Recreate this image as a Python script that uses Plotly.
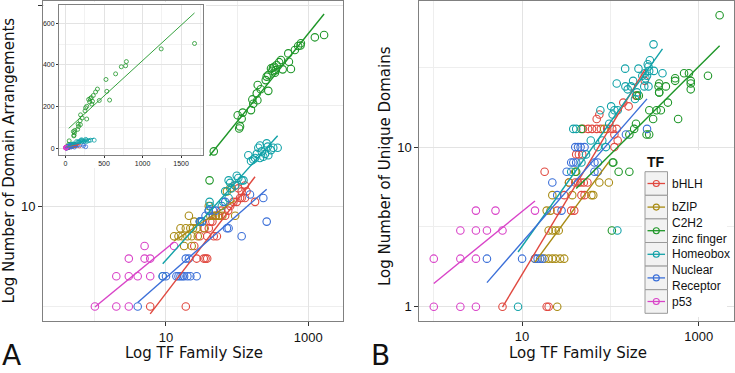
import numpy as np
import plotly.graph_objects as go

W, H = 735, 373

families = ["bHLH", "bZIP", "C2H2 zinc finger", "Homeobox", "Nuclear Receptor", "p53"]
legend_lines = ["bHLH", "bZIP", "C2H2<br>zinc finger", "Homeobox", "Nuclear<br>Receptor", "p53"]
colors = ["#E0483F", "#A88A12", "#1E9628", "#12A2A8", "#3B6FD8", "#D943C8"]

# ---------------- Panel A: family size vs number of domain arrangements ----------------
bhlh_a_size = [6, 19, 27, 34, 36, 38, 38, 47, 52, 56, 60, 68, 75, 80, 89, 94, 99, 104, 110, 116, 116, 129, 129, 136,
               179, 25, 30, 35, 40, 42, 45, 50]
bhlh_a_arr = [1, 1, 3, 3, 3, 3, 5, 5, 5, 8, 9, 8, 9, 10, 11, 16, 11, 15, 12, 14, 12, 16, 12, 14,
              11, 4, 5, 6, 6, 7, 7, 8]
bzip_a_size = [13, 15, 17, 20, 23, 28, 16, 19, 22, 24, 27, 18, 23, 21, 25, 30, 34, 40, 42, 46, 50, 55, 62, 94, 72, 80]
bzip_a_arr = [5, 5, 5, 5, 5, 5, 6, 6, 6, 6, 6, 4, 4, 8, 7, 7, 6, 10, 8, 8, 8, 8, 8, 8, 14, 15]
c2h2_a_size = [41, 47, 102, 107, 110, 116, 120, 157, 164, 169, 189, 193, 195, 215, 253, 261, 275, 275, 300, 313,
               320, 334, 341, 350, 360, 390, 414, 438, 525, 536, 572, 650, 724, 780, 790, 1242, 1675]
c2h2_a_arr = [18, 35, 80, 59, 62, 74, 85, 90, 115, 104, 132, 113, 160, 145, 179, 194, 201, 140, 234, 222,
              238, 243, 212, 225, 253, 270, 284, 229, 330, 273, 231, 357, 391, 396, 416, 477, 503]
homeobox_a_size = [9, 30, 32, 40, 41, 42, 61, 64, 68, 76, 76, 80, 84, 94, 99, 104, 116, 123, 144, 157, 169, 179,
                   189, 199, 210, 210, 222, 234, 247, 261, 270, 275, 300, 323, 372]
homeobox_a_arr = [2, 7, 7, 9, 11, 10, 10, 11, 14, 18, 12, 17, 15, 16, 20, 19, 18, 18, 32, 28, 29, 30,
                  33, 38, 40, 30, 35, 31, 33, 42, 39, 32, 36, 38, 38]
nr_a_size = [4, 9, 10, 14, 15, 16, 17, 18, 20, 22, 27, 19, 21, 30, 32, 36, 40, 46, 50, 68, 72, 76, 116, 152, 234, 261]
nr_a_arr = [1, 2, 2, 2, 2, 2, 2, 2, 2, 2, 2, 3, 3, 7, 7, 8, 9, 9, 9, 11, 6, 6, 5, 13, 12, 7]
p53_a_size = [1, 2, 3, 2, 3, 4, 6, 3, 5, 6, 5, 13]
p53_a_arr = [1, 1, 1, 2, 2, 2, 2, 3, 3, 3, 4, 4]

# ---------------- Panel B: family size vs number of unique domains ----------------
bhlh_b_size = [6, 19, 20, 18, 36, 39, 47, 51, 40, 43, 46, 50, 55, 41, 44, 48, 49, 56, 62, 70, 78, 92, 105, 118,
               75, 70, 111, 121, 111, 140, 161, 195, 245, 25, 30, 34]
bhlh_b_uniq = [1, 1, 1, 7, 4, 4, 5, 5, 6, 6, 6, 6, 6, 9, 9, 9, 13, 13, 13, 13, 13, 13, 13, 13,
               16, 15, 12, 11, 10, 19, 18, 21, 26, 4, 5, 6]
bzip_b_size = [14, 18, 20, 22, 24, 27, 30, 20, 22, 24, 26, 19, 21, 22, 37, 61, 64, 34, 75, 96, 85, 25, 40]
bzip_b_uniq = [2, 2, 2, 2, 2, 2, 2, 3, 3, 3, 3, 4, 4, 5, 5, 5, 5, 6, 6, 6, 13, 1, 7]
c2h2_b_size = [41, 47, 104, 108, 124, 164, 106, 200, 210, 164, 186, 195, 257, 275, 276, 305, 333, 373, 351, 357,
               357, 357, 425, 448, 541, 541, 585, 683, 776, 813, 813, 813, 1274, 1726]
c2h2_b_uniq = [7, 13, 3, 8, 7, 7, 8, 21, 21, 12, 13, 14, 12, 12, 17, 15, 17, 17, 24, 25,
               22, 22, 24, 19, 27, 26, 15, 29, 29, 26, 25, 23, 28, 67]
homeobox_b_size = [9, 120, 36, 47, 53, 72, 38, 41, 60, 81, 89, 97, 77, 102, 111, 121, 106, 118, 148, 157, 171, 181,
                   208, 147, 270, 275, 311, 389, 242, 270, 250, 260, 230, 308, 280, 265, 245, 200, 190]
homeobox_b_uniq = [1, 3, 7, 8, 9, 10, 13, 13, 11, 11, 10, 14, 17, 18, 17, 17, 16, 25, 24, 23, 24, 26,
                   31, 31, 32, 30, 30, 29, 24, 24, 27, 28, 28, 44, 35, 33, 29, 22, 20]
nr_b_size = [4, 10, 14, 15, 16, 17, 28, 32, 36, 38, 41, 40, 43, 46, 51, 66, 72, 66, 72, 150, 260, 22, 25]
nr_b_uniq = [2, 2, 2, 2, 2, 2, 4, 7, 8, 8, 8, 10, 10, 10, 10, 7, 7, 8, 8, 12, 13, 6, 5]
p53_b_size = [1, 2, 3, 1, 2, 3, 2, 3, 4, 6, 3, 5, 14]
p53_b_uniq = [1, 1, 1, 2, 2, 2, 3, 3, 3, 3, 4, 4, 4]

# axis tick labels
log_ticks = [10, 1000]
log_tick_text = ["10", "1000"]
b_y_ticks = [1, 10]
b_y_tick_text = ["1", "10"]
inset_x_ticks = [0, 500, 1000, 1500]
inset_y_ticks = [0, 200, 400, 600]

a_sizes = [bhlh_a_size, bzip_a_size, c2h2_a_size, homeobox_a_size, nr_a_size, p53_a_size]
a_vals = [bhlh_a_arr, bzip_a_arr, c2h2_a_arr, homeobox_a_arr, nr_a_arr, p53_a_arr]
b_sizes = [bhlh_b_size, bzip_b_size, c2h2_b_size, homeobox_b_size, nr_b_size, p53_b_size]
b_vals = [bhlh_b_uniq, bzip_b_uniq, c2h2_b_uniq, homeobox_b_uniq, nr_b_uniq, p53_b_uniq]


def fx(p):
    return p / W


def fy(p):
    return 1 - p / H


def loglog_fit(x, y):
    lx, ly = np.log10(x), np.log10(y)
    b, a = np.polyfit(lx, ly, 1)
    xs = np.array([min(x), max(x)], dtype=float)
    return xs, 10 ** (a + b * np.log10(xs))


def lin_fit(x, y):
    b, a = np.polyfit(np.asarray(x, float), np.asarray(y, float), 1)
    xs = np.array([min(x), max(x)], dtype=float)
    return xs, a + b * xs


fig = go.Figure()

# Panel A
for i in range(6):
    fig.add_trace(go.Scatter(x=a_sizes[i], y=a_vals[i], mode="markers", name=families[i],
                             marker=dict(symbol="circle-open", size=7.5, color=colors[i], line=dict(width=1.1)),
                             xaxis="x", yaxis="y", showlegend=False, hoverinfo="skip"))
for i in range(6):
    xs, ys = loglog_fit(a_sizes[i], a_vals[i])
    fig.add_trace(go.Scatter(x=xs, y=ys, mode="lines", line=dict(color=colors[i], width=1.4),
                             xaxis="x", yaxis="y", showlegend=False, hoverinfo="skip"))

# Panel B
for i in range(6):
    fig.add_trace(go.Scatter(x=b_sizes[i], y=b_vals[i], mode="markers", name=families[i],
                             marker=dict(symbol="circle-open", size=7.5, color=colors[i], line=dict(width=1.1)),
                             xaxis="x2", yaxis="y2", showlegend=False, hoverinfo="skip"))
for i in range(6):
    xs, ys = loglog_fit(b_sizes[i], b_vals[i])
    fig.add_trace(go.Scatter(x=xs, y=ys, mode="lines", line=dict(color=colors[i], width=1.4),
                             xaxis="x2", yaxis="y2", showlegend=False, hoverinfo="skip"))

# white background behind the inset
fig.add_trace(go.Scatter(x=[None], y=[None], xaxis="x3", yaxis="y3", showlegend=False, hoverinfo="skip"))

# Inset (linear scale, panel A data)
for i in range(6):
    fig.add_trace(go.Scatter(x=a_sizes[i], y=a_vals[i], mode="markers",
                             marker=dict(symbol="circle-open", size=4, color=colors[i], line=dict(width=0.8)),
                             xaxis="x4", yaxis="y4", showlegend=False, hoverinfo="skip"))
for i in range(6):
    xs, ys = lin_fit(a_sizes[i], a_vals[i])
    fig.add_trace(go.Scatter(x=xs, y=ys, mode="lines", line=dict(color=colors[i], width=0.9),
                             xaxis="x4", yaxis="y4", showlegend=False, hoverinfo="skip"))

tickfont = dict(family="Liberation Sans, Arial, sans-serif", size=13, color="#111111")
base = dict(showline=True, linecolor="#808080", linewidth=1, mirror=True, ticks="outside", ticklen=4,
            tickwidth=1, tickcolor="#333333", showgrid=True, gridcolor="#e3e3e3", gridwidth=1,
            zeroline=False, tickfont=tickfont, automargin=False)
minor_log = dict(tickvals=[1, 100], showgrid=True, gridcolor="#eeeeee", gridwidth=0.7, ticks="")

fig.update_layout(
    width=W, height=H, autosize=False,
    margin=dict(l=0, r=0, t=0, b=0, pad=0),
    paper_bgcolor="white", plot_bgcolor="white",
    xaxis=dict(base, type="log", range=[-0.73, 3.49], tickvals=log_ticks, ticktext=log_tick_text,
               domain=[fx(43), fx(343)], anchor="y", minor=minor_log),
    yaxis=dict(base, type="log", range=[-0.144, 3.04], tickvals=log_ticks, ticktext=log_tick_text,
               domain=[fy(321), fy(1)], anchor="x", minor=minor_log),
    xaxis2=dict(base, type="log", range=[-0.164, 3.40], tickvals=log_ticks, ticktext=log_tick_text,
                domain=[fx(419.3), fx(734)], anchor="y2", minor=minor_log),
    yaxis2=dict(base, type="log", range=[-0.0875, 1.915], tickvals=b_y_ticks, ticktext=b_y_tick_text,
                domain=[fy(320.7), fy(1)], anchor="x2",
                minor=dict(tickvals=[10 ** 0.5, 10 ** 1.5], showgrid=True, gridcolor="#eeeeee",
                           gridwidth=0.7, ticks="")),
    xaxis3=dict(domain=[fx(44), fx(206)], anchor="y3", visible=False, range=[0, 1], automargin=False),
    yaxis3=dict(domain=[fy(168), fy(2)], anchor="x3", visible=False, range=[0, 1], automargin=False),
    xaxis4=dict(base, range=[-85, 1785], tickvals=inset_x_ticks, domain=[fx(59), fx(203)], anchor="y4",
                ticklen=2, tickfont=dict(family="Liberation Sans, Arial, sans-serif", size=7, color="#222"),
                gridwidth=0.6, minor=dict(dtick=250, tick0=0, showgrid=True, gridcolor="#f2f2f2", gridwidth=0.4, ticks="")),
    yaxis4=dict(base, range=[-33, 688], tickvals=inset_y_ticks, domain=[fy(155), fy(5)], anchor="x4",
                ticklen=2, tickfont=dict(family="Liberation Sans, Arial, sans-serif", size=7, color="#222"),
                gridwidth=0.6, minor=dict(dtick=100, tick0=0, showgrid=True, gridcolor="#f2f2f2", gridwidth=0.4, ticks="")),
)

title_font = dict(family="DejaVu Sans, sans-serif", size=15, color="#111111")
ann = [
    dict(text="Log TF Family Size", x=fx(193.5), y=fy(353), xref="paper", yref="paper", showarrow=False,
         font=title_font, xanchor="center", yanchor="middle"),
    dict(text="Log TF Family Size", x=fx(577.5), y=fy(353), xref="paper", yref="paper", showarrow=False,
         font=title_font, xanchor="center", yanchor="middle"),
    dict(text="Log Number of Domain Arrangements", x=fx(8.5), y=fy(161), xref="paper", yref="paper",
         showarrow=False, font=title_font, textangle=-90, xanchor="center", yanchor="middle"),
    dict(text="Log Number of Unique Domains", x=fx(385), y=fy(166), xref="paper", yref="paper",
         showarrow=False, font=title_font, textangle=-90, xanchor="center", yanchor="middle"),
    dict(text="A", x=fx(11.5), y=fy(355), xref="paper", yref="paper", showarrow=False,
         font=dict(family="DejaVu Sans, sans-serif", size=28, color="#111"), xanchor="center", yanchor="middle"),
    dict(text="B", x=fx(380), y=fy(355), xref="paper", yref="paper", showarrow=False,
         font=dict(family="DejaVu Sans, sans-serif", size=28, color="#111"), xanchor="center", yanchor="middle"),
    dict(text="<b>TF</b>", x=fx(645), y=fy(161.7), xref="paper", yref="paper", showarrow=False,
         font=dict(family="Liberation Sans, Arial, sans-serif", size=14, color="#111"),
         xanchor="left", yanchor="middle"),
]

shapes = [dict(type="rect", xref="paper", yref="paper", x0=fx(642), x1=fx(727), y0=fy(317), y1=fy(150),
               fillcolor="white", line=dict(width=0), layer="above")]
key_top, key_h = 171.7, 23.6
legend_font = dict(family="Liberation Sans, Arial, sans-serif", size=12, color="#111")
for i in range(6):
    t = key_top + i * key_h
    cy = t + key_h / 2
    shapes.append(dict(type="rect", xref="paper", yref="paper", x0=fx(645), x1=fx(667.5), y0=fy(t + key_h),
                       y1=fy(t), fillcolor="#f2f2f2", line=dict(color="#9a9a9a", width=1), layer="above"))
    shapes.append(dict(type="line", xref="paper", yref="paper", x0=fx(647.5), x1=fx(665), y0=fy(cy), y1=fy(cy),
                       line=dict(color=colors[i], width=1.3), layer="above"))
    shapes.append(dict(type="circle", xref="paper", yref="paper", x0=fx(653.3), x1=fx(659.3), y0=fy(cy + 3),
                       y1=fy(cy - 3), line=dict(color=colors[i], width=1.1), fillcolor="rgba(0,0,0,0)",
                       layer="above"))
    ann.append(dict(text=legend_lines[i], x=fx(671), y=fy(cy), xref="paper", yref="paper", showarrow=False,
                    align="left", xanchor="left", yanchor="middle", borderpad=0, font=legend_font))

fig.update_layout(annotations=ann, shapes=shapes)
fig.write_html("out.html", config={"displayModeBar": False},
               post_script="document.body.style.margin='0';document.body.style.overflow='hidden';")
